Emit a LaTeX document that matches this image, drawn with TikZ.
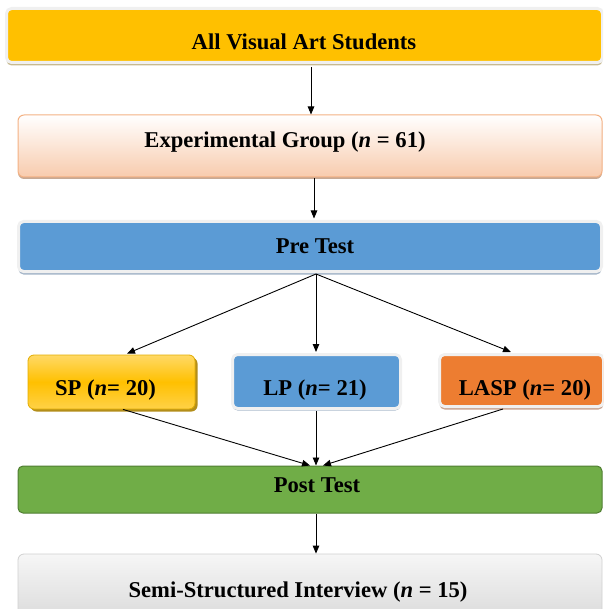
\documentclass[tikz,border=0pt]{standalone}
\usepackage{fontspec}
\setmainfont{Liberation Serif}
\usetikzlibrary{arrows.meta,shadows}

\definecolor{gold}{HTML}{FFC000}
\definecolor{goldlight}{HTML}{FFD966}
\definecolor{goldedge}{HTML}{E2AC00}
\definecolor{goldshadow}{HTML}{B38E1A}
\definecolor{tanshadow}{HTML}{C8BA90}
\definecolor{framegray}{HTML}{F0F0F0}
\definecolor{peach}{HTML}{F8CBAD}
\definecolor{peachedge}{HTML}{F4B183}
\definecolor{peachshadow}{HTML}{C7A994}
\definecolor{steel}{HTML}{5B9BD5}
\definecolor{steelshadow}{HTML}{A4B5C8}
\definecolor{rust}{HTML}{ED7D31}
\definecolor{rustshadow}{HTML}{C9A390}
\definecolor{leaf}{HTML}{70AD47}
\definecolor{leafedge}{HTML}{507E32}
\definecolor{paleA}{HTML}{F6F6F6}
\definecolor{paleB}{HTML}{D9D9D9}
\definecolor{paleedge}{HTML}{D0D0D0}

\begin{document}
\begin{tikzpicture}[x=1pt,y=-1pt,
  box/.style={rectangle, rounded corners=5pt, inner sep=0pt},
  framed/.style={box, draw=framegray, line width=3pt},
  lbl/.style={anchor=base, font=\fontsize{22.6}{27}\selectfont\bfseries},
  arr/.style={draw=black, line width=0.9pt, -{Triangle[length=8pt,width=6.5pt]}}]
\useasboundingbox (0,0) rectangle (603,609);
\clip (0,0) rectangle (603,609);

% boxes
\node[framed, fill=gold, minimum width=596pt, minimum height=54pt,
      general shadow={shadow yshift=-3pt, fill=tanshadow}] (all) at (304.5,35.5) {};
\node[box, rounded corners=6pt, draw=peachedge, line width=1pt,
      top color=white, bottom color=peach, minimum width=584pt, minimum height=62pt,
      general shadow={shadow yshift=-2pt, fill=peachshadow}] (exp) at (310,146) {};
\node[framed, fill=steel, minimum width=583pt, minimum height=50pt,
      general shadow={shadow yshift=-3pt, fill=steelshadow}] (pre) at (310,246.5) {};
\node[box, rounded corners=6pt, draw=goldedge, line width=0.8pt,
      top color=goldlight, bottom color=goldlight!70!gold, middle color=gold,
      minimum width=167pt, minimum height=54pt,
      general shadow={shadow xshift=2.5pt, shadow yshift=-2.5pt, fill=goldshadow}] (sp) at (111.5,382) {};
\node[framed, fill=steel, minimum width=168pt, minimum height=54pt,
      general shadow={shadow yshift=-2pt, fill=steelshadow}] (lp) at (316.5,381.5) {};
\node[framed, fill=rust, minimum width=164pt, minimum height=52pt,
      general shadow={shadow yshift=-3pt, fill=rustshadow}] (lasp) at (521.5,380.5) {};
\node[box, draw=leafedge, line width=1pt, fill=leaf,
      minimum width=584pt, minimum height=47pt] (post) at (310,489.5) {};
\node[box, rounded corners=6pt, draw=paleedge, line width=0.8pt,
      top color=paleA, bottom color=paleB,
      minimum width=584pt, minimum height=70pt] (interview) at (310,589) {};

% labels
\node[lbl] (tall)  at (304,50)  {All Visual Art Students};
\node[lbl] (texp)  at (285,148) {Experimental Group (\textit{n} = 61)};
\node[lbl] (tpre)  at (315,254) {Pre Test};
\node[lbl] (tsp)   at (105.5,395) {SP (\textit{n}= 20)};
\node[lbl] (tlp)   at (315,395) {LP (\textit{n}= 21)};
\node[lbl] (tlasp) at (525,395) {LASP (\textit{n}= 20)};
\node[lbl] (tpost) at (317,492) {Post Test};
\node[lbl] (tint)  at (298,597) {Semi-Structured Interview (\textit{n} = 15)};

% connectors
\draw[arr] ([xshift=6.5pt,yshift=-3pt]all.south) -- ([xshift=1pt]exp.north);
\draw[arr] ([xshift=4pt,yshift=-1pt]exp.south) -- ([xshift=4pt,yshift=1.5pt]pre.north);
\draw[arr] ([xshift=6pt,yshift=-1pt]pre.south) -- ([xshift=15.5pt,yshift=1pt]sp.north);
\draw[arr] ([xshift=6pt,yshift=-1pt]pre.south) -- ([xshift=-0.5pt,yshift=1pt]lp.north);
\draw[arr] ([xshift=6pt,yshift=-1pt]pre.south) -- ([xshift=-10.5pt,yshift=1pt]lasp.north);
\draw[arr] ([xshift=11.5pt]sp.south) -- ([xshift=0pt]post.north);
\draw[arr] ([xshift=-0.5pt,yshift=-1pt]lp.south) -- ([xshift=6pt]post.north);
\draw[arr] ([xshift=-18.5pt,yshift=-1pt]lasp.south) -- ([xshift=13pt]post.north);
\draw[arr] ([xshift=6pt]post.south) -- ([xshift=6pt]interview.north);
\end{tikzpicture}
\end{document}
